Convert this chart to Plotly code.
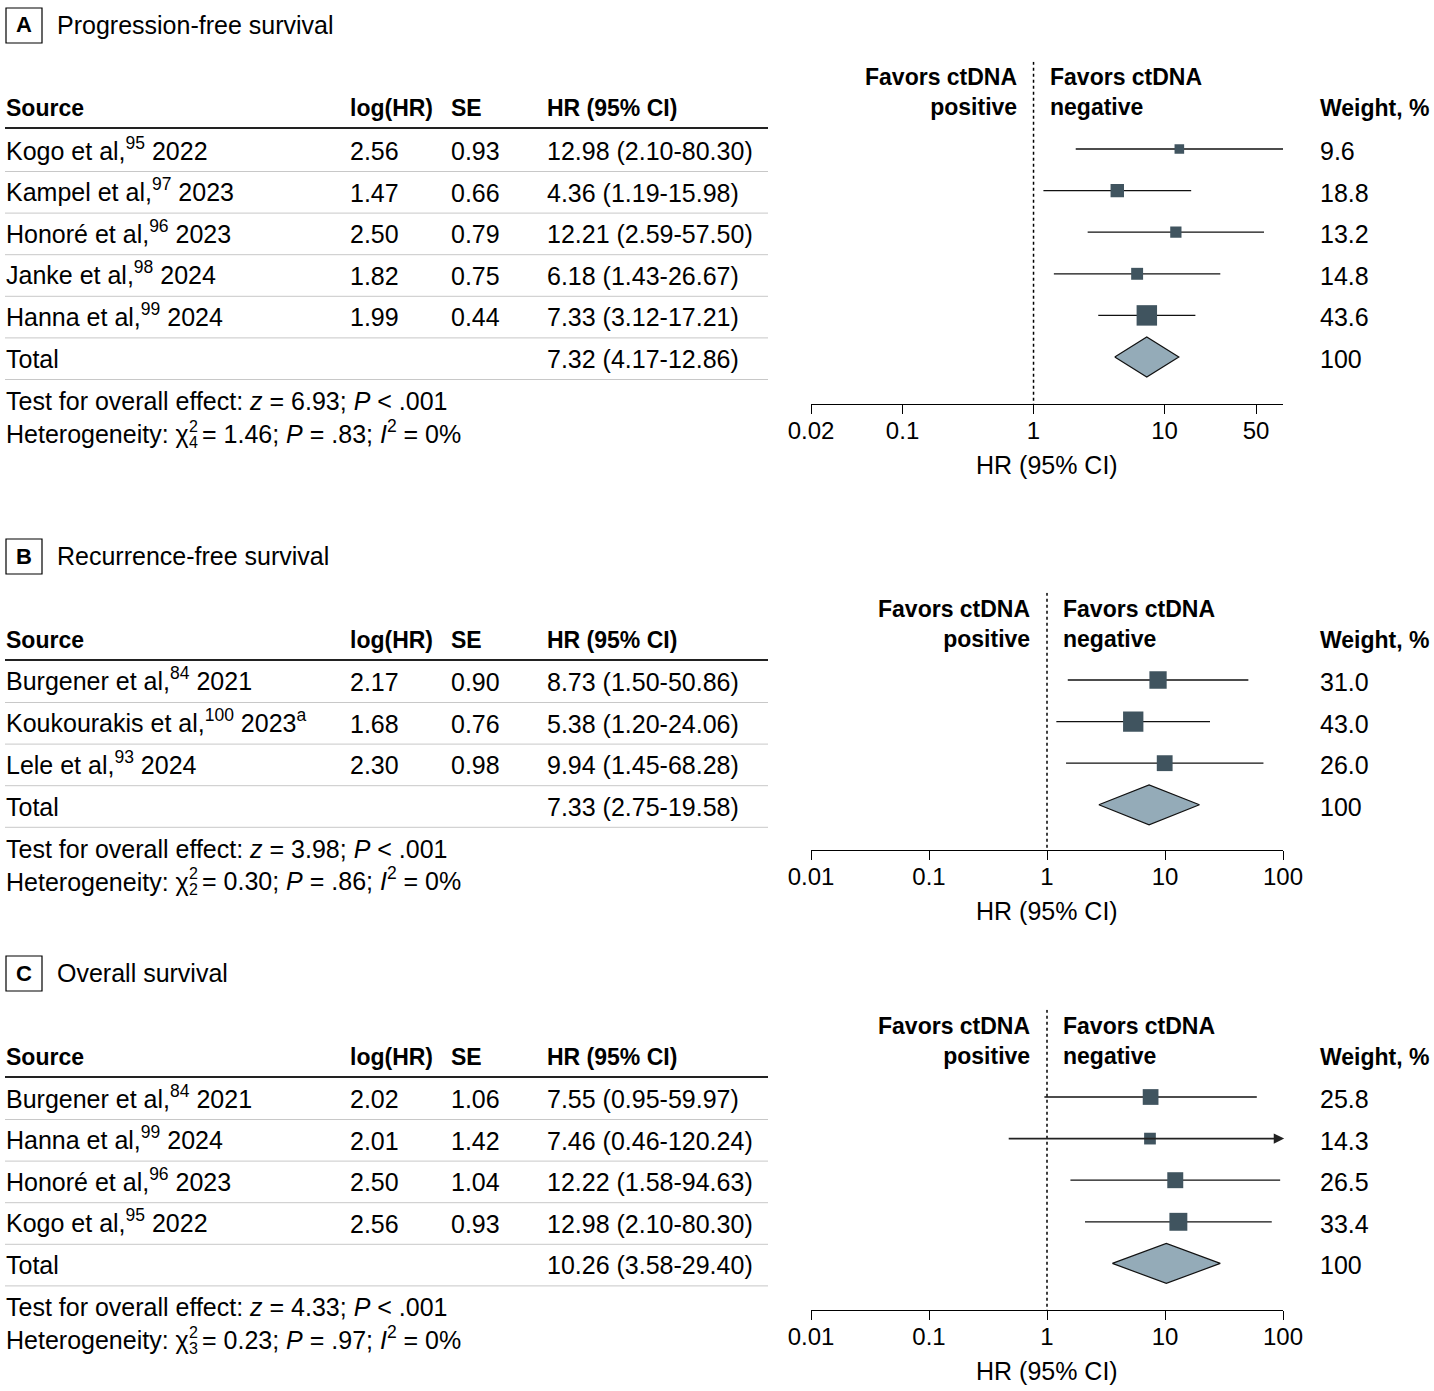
import math
import plotly.graph_objects as go

W, H = 1434, 1391
FONT = "Liberation Sans"
FS = 25
FSB = 23
SQ_COLOR = "#40545f"
DIA_COLOR = "#94abb8"

# ---------------- Data ----------------
# Panel A: Progression-free survival
a_title = "Progression-free survival"
a_source = ["Kogo et al,<sup>95</sup> 2022", "Kampel et al,<sup>97</sup> 2023",
            "Honoré et al,<sup>96</sup> 2023", "Janke et al,<sup>98</sup> 2024",
            "Hanna et al,<sup>99</sup> 2024"]
a_loghr = ["2.56", "1.47", "2.50", "1.82", "1.99"]
a_se = ["0.93", "0.66", "0.79", "0.75", "0.44"]
a_hr = [12.98, 4.36, 12.21, 6.18, 7.33]
a_lo = [2.10, 1.19, 2.59, 1.43, 3.12]
a_hi = [80.30, 15.98, 57.50, 26.67, 17.21]
a_weight = [9.6, 18.8, 13.2, 14.8, 43.6]
a_total = [7.32, 4.17, 12.86]
a_z, a_p = "6.93", "&lt; .001"
a_df, a_chi, a_hp, a_i2 = "4", "1.46", "= .83", "0%"
a_ticks = [0.02, 0.1, 1, 10, 50]
a_ticktext = ["0.02", "0.1", "1", "10", "50"]

# Panel B: Recurrence-free survival
b_title = "Recurrence-free survival"
b_source = ["Burgener et al,<sup>84</sup> 2021", "Koukourakis et al,<sup>100</sup> 2023<sup>a</sup>",
            "Lele et al,<sup>93</sup> 2024"]
b_loghr = ["2.17", "1.68", "2.30"]
b_se = ["0.90", "0.76", "0.98"]
b_hr = [8.73, 5.38, 9.94]
b_lo = [1.50, 1.20, 1.45]
b_hi = [50.86, 24.06, 68.28]
b_weight = [31.0, 43.0, 26.0]
b_total = [7.33, 2.75, 19.58]
b_z, b_p = "3.98", "&lt; .001"
b_df, b_chi, b_hp, b_i2 = "2", "0.30", "= .86", "0%"
b_ticks = [0.01, 0.1, 1, 10, 100]
b_ticktext = ["0.01", "0.1", "1", "10", "100"]

# Panel C: Overall survival
c_title = "Overall survival"
c_source = ["Burgener et al,<sup>84</sup> 2021", "Hanna et al,<sup>99</sup> 2024",
            "Honoré et al,<sup>96</sup> 2023", "Kogo et al,<sup>95</sup> 2022"]
c_loghr = ["2.02", "2.01", "2.50", "2.56"]
c_se = ["1.06", "1.42", "1.04", "0.93"]
c_hr = [7.55, 7.46, 12.22, 12.98]
c_lo = [0.95, 0.46, 1.58, 2.10]
c_hi = [59.97, 120.24, 94.63, 80.30]
c_weight = [25.8, 14.3, 26.5, 33.4]
c_total = [10.26, 3.58, 29.40]
c_z, c_p = "4.33", "&lt; .001"
c_df, c_chi, c_hp, c_i2 = "3", "0.23", "= .97", "0%"
c_ticks = [0.01, 0.1, 1, 10, 100]
c_ticktext = ["0.01", "0.1", "1", "10", "100"]

panels = [
    dict(letter="A", title=a_title, source=a_source, loghr=a_loghr, se=a_se, hr=a_hr, lo=a_lo,
         hi=a_hi, w=a_weight, total=a_total, z=a_z, p=a_p, df=a_df, chi=a_chi, hp=a_hp, i2=a_i2,
         ticks=a_ticks, ticktext=a_ticktext, xr=(0.02, 80.3),
         label_y=25, header_y=108, row0=151, axis_y=404),
    dict(letter="B", title=b_title, source=b_source, loghr=b_loghr, se=b_se, hr=b_hr, lo=b_lo,
         hi=b_hi, w=b_weight, total=b_total, z=b_z, p=b_p, df=b_df, chi=b_chi, hp=b_hp, i2=b_i2,
         ticks=b_ticks, ticktext=b_ticktext, xr=(0.01, 100),
         label_y=556, header_y=640, row0=682, axis_y=850),
    dict(letter="C", title=c_title, source=c_source, loghr=c_loghr, se=c_se, hr=c_hr, lo=c_lo,
         hi=c_hi, w=c_weight, total=c_total, z=c_z, p=c_p, df=c_df, chi=c_chi, hp=c_hp, i2=c_i2,
         ticks=c_ticks, ticktext=c_ticktext, xr=(0.01, 100),
         label_y=973, header_y=1057, row0=1099, axis_y=1310),
]

# ---------------- Layout helpers ----------------
PITCH = 41.6
X_SRC, X_LOG, X_SE, X_HR, X_W = 6, 350, 451, 547, 1320
X_PLOT0, X_PLOT1 = 811, 1283
TABLE_END = 768
CHI_END = 189   # where the chi glyph ends (stacked scripts go here)


def px(x):
    return x / W


def py(y):
    return 1 - y / H


fig = go.Figure()
annotations = []
shapes = []
layout_axes = {}


def txt(x, y, s, anchor="left", bold=False, size=FS, **kw):
    if "<sup>" in s:
        y = y - 2.5
    if bold:
        s = "<b>" + s + "</b>"
    if anchor == "left":
        x = x - 2.5
    annotations.append(dict(x=px(x), y=py(y), xref="paper", yref="paper", text=s,
                            showarrow=False, xanchor=anchor, yanchor="middle",
                            font=dict(family=FONT, size=size, color="#000000"), **kw))


def hline(x0, x1, y, color, width):
    shapes.append(dict(type="line", xref="paper", yref="paper", x0=px(x0), x1=px(x1),
                       y0=py(y), y1=py(y), line=dict(color=color, width=width)))


for k, p in enumerate(panels, start=1):
    xa = "x" if k == 1 else f"x{k}"
    ya = "y" if k == 1 else f"y{k}"
    n = len(p["hr"])

    # panel label box + title
    ly = p["label_y"]
    shapes.append(dict(type="rect", xref="paper", yref="paper", x0=px(6), x1=px(42),
                       y0=py(ly - 17), y1=py(ly + 18), line=dict(color="#000000", width=1.2)))
    txt(24, ly, p["letter"], anchor="center", bold=True, size=22)
    txt(57, ly, p["title"])

    # headers
    hy = p["header_y"]
    txt(X_SRC, hy, "Source", bold=True, size=FSB)
    txt(X_LOG, hy, "log(HR)", bold=True, size=FSB)
    txt(X_SE, hy, "SE", bold=True, size=FSB)
    txt(X_HR, hy, "HR (95% CI)", bold=True, size=FSB)
    txt(X_W, hy, "Weight, %", bold=True, size=FSB)
    hline(5, TABLE_END, hy + 20, "#222222", 2)

    # rows
    for i in range(n):
        ry = p["row0"] + i * PITCH
        txt(X_SRC, ry, p["source"][i])
        txt(X_LOG, ry, p["loghr"][i])
        txt(X_SE, ry, p["se"][i])
        txt(X_HR, ry, f"{p['hr'][i]:.2f} ({p['lo'][i]:.2f}-{p['hi'][i]:.2f})")
        txt(X_W, ry, f"{p['w'][i]:.1f}")
        hline(5, TABLE_END, ry + 20.5, "#c8c8c8", 1)
    ty = p["row0"] + n * PITCH
    t = p["total"]
    txt(X_SRC, ty, "Total")
    txt(X_HR, ty, f"{t[0]:.2f} ({t[1]:.2f}-{t[2]:.2f})")
    txt(X_W, ty, "100")
    hline(5, TABLE_END, ty + 20.5, "#c8c8c8", 1)
    txt(X_SRC, ty + 42, f"Test for overall effect: <i>z</i> = {p['z']}; <i>P</i> {p['p']}")
    hy2 = ty + 75
    txt(X_SRC, hy2, "Heterogeneity: χ")
    txt(CHI_END, hy2 - 8, "2", size=16)
    txt(CHI_END, hy2 + 8, p["df"], size=16)
    txt(CHI_END + 13, hy2, f"= {p['chi']}; <i>P</i> {p['hp']}; <i>I</i><sup>2</sup> = {p['i2']}")

    # forest axes
    row0m = p["row0"] - 2
    top_val = -2.1
    bottom_val = (p["axis_y"] - row0m) / PITCH
    top_px = row0m + top_val * PITCH
    xname = "xaxis" if k == 1 else f"xaxis{k}"
    yname = "yaxis" if k == 1 else f"yaxis{k}"
    layout_axes[xname] = dict(
        type="log", domain=[px(X_PLOT0), px(X_PLOT1)], anchor=ya, automargin=False,
        range=[math.log10(p["xr"][0]), math.log10(p["xr"][1])],
        tickvals=p["ticks"], ticktext=p["ticktext"], ticks="outside", ticklen=9,
        ticklabelstandoff=-4,
        tickwidth=1.2, tickcolor="#000000", showline=True, linecolor="#000000", linewidth=1.2,
        showgrid=False, zeroline=False, tickfont=dict(family=FONT, size=24, color="#000000"),
        fixedrange=True)
    layout_axes[yname] = dict(
        domain=[py(p["axis_y"]), py(top_px)], range=[bottom_val, top_val], anchor=xa,
        visible=False, showgrid=False, zeroline=False, fixedrange=True, automargin=False)

    # axis title
    annotations.append(dict(x=0.5, y=py(p["axis_y"] + 61), xref=f"{xa} domain", yref="paper",
                            text="HR (95% CI)", showarrow=False, xanchor="center",
                            yanchor="middle", font=dict(family=FONT, size=FS, color="#000000")))

    # favors labels
    fy = hy - 16
    annotations.append(dict(x=0, y=py(fy), xref=xa, yref="paper",
                            text="<b>Favors ctDNA<br>positive</b>", showarrow=False,
                            xanchor="right", yanchor="middle", align="right", xshift=-15,
                            font=dict(family=FONT, size=FSB, color="#000000")))
    annotations.append(dict(x=0, y=py(fy), xref=xa, yref="paper",
                            text="<b>Favors ctDNA<br>negative</b>", showarrow=False,
                            xanchor="left", yanchor="middle", align="left", xshift=14,
                            font=dict(family=FONT, size=FSB, color="#000000")))

    # null line
    fig.add_trace(go.Scatter(x=[1, 1], y=[top_val, bottom_val], mode="lines", xaxis=xa, yaxis=ya,
                             line=dict(color="#000000", width=1.5, dash="dot"),
                             hoverinfo="skip"))

    # CI lines
    xmax = p["xr"][1]
    for i in range(n):
        lo, hi = p["lo"][i], p["hi"][i]
        if hi > xmax * 1.001:
            annotations.append(dict(x=math.log10(xmax) + 0.01, y=i, xref=xa, yref=ya,
                                    ax=math.log10(lo), ay=i, axref=xa, ayref=ya,
                                    showarrow=True, arrowhead=2, arrowsize=1.3,
                                    arrowwidth=1.6, arrowcolor="#222222", text=""))
        else:
            fig.add_trace(go.Scatter(x=[lo, hi], y=[i, i], mode="lines", xaxis=xa, yaxis=ya,
                                     line=dict(color="#111111", width=1.3), hoverinfo="skip"))

    # squares
    fig.add_trace(go.Scatter(
        x=p["hr"], y=list(range(n)), mode="markers", xaxis=xa, yaxis=ya,
        marker=dict(symbol="square", color=SQ_COLOR, opacity=1,
                    size=[3.1 * math.sqrt(w) for w in p["w"]],
                    line=dict(color=SQ_COLOR, width=0)),
        hoverinfo="skip"))

    # diamond
    hh = 0.48
    fig.add_trace(go.Scatter(
        x=[t[1], t[0], t[2], t[0], t[1]], y=[n, n - hh, n, n + hh, n], mode="lines",
        fill="toself", fillcolor=DIA_COLOR, line=dict(color="#111111", width=1.2),
        xaxis=xa, yaxis=ya, hoverinfo="skip"))

fig.update_layout(
    width=W, height=H, autosize=False, margin=dict(l=0, r=0, t=0, b=0, pad=0, autoexpand=False),
    paper_bgcolor="white", plot_bgcolor="rgba(0,0,0,0)", showlegend=False,
    annotations=annotations, shapes=shapes, font=dict(family=FONT, size=FS, color="#000000"),
    **layout_axes)

fig.write_html("out.html", config={"displayModeBar": False, "responsive": False},
               post_script="document.body.style.margin='0px';")
